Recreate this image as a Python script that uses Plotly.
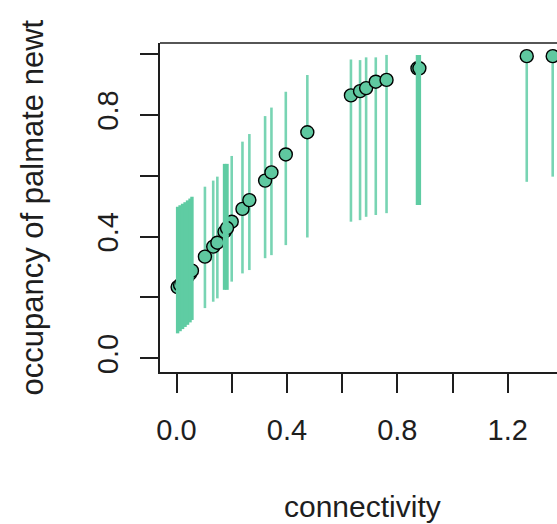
import plotly.graph_objects as go

# ---- data ----
# points whose markers sit on top of their interval lines
conn = [0.103, 0.133, 0.148, 0.200, 0.239, 0.264, 0.321, 0.344, 0.396, 0.474,
        0.632, 0.665, 0.687, 0.722, 0.761, 1.269, 1.363]
occ = [0.334, 0.367, 0.380, 0.449, 0.491, 0.520, 0.584, 0.611, 0.670, 0.743,
       0.864, 0.878, 0.888, 0.909, 0.915, 0.993, 0.993]
occ_lo = [0.165, 0.186, 0.197, 0.252, 0.279, 0.290, 0.329, 0.339, 0.372, 0.397,
          0.449, 0.454, 0.465, 0.471, 0.477, 0.580, 0.597]
occ_hi = [0.564, 0.584, 0.597, 0.665, 0.712, 0.737, 0.796, 0.824, 0.876, 0.931,
          0.982, 0.980, 0.989, 0.989, 0.997, 0.997, 0.997]

# points whose markers are covered by later-drawn interval lines
conn_b = [0.004, 0.013, 0.022, 0.031, 0.040, 0.049, 0.056, 0.174, 0.183, 0.873, 0.880]
occ_b = [0.234, 0.241, 0.250, 0.258, 0.268, 0.278, 0.288, 0.416, 0.428, 0.953, 0.953]
occ_lo_b = [0.082, 0.089, 0.096, 0.103, 0.110, 0.118, 0.126, 0.225, 0.225, 0.504, 0.504]
occ_hi_b = [0.498, 0.503, 0.508, 0.513, 0.519, 0.525, 0.531, 0.639, 0.639, 0.997, 0.997]

x_ticks = [0.0, 0.2, 0.4, 0.6, 0.8, 1.0, 1.2]
x_tick_labels = ["0.0", "", "0.4", "", "0.8", "", "1.2"]
y_ticks = [0.0, 0.2, 0.4, 0.6, 0.8, 1.0]
y_tick_labels = ["0.0", "", "0.4", "", "0.8", ""]

LINE_COL = "#78d4b3"
LINE_COL_DENSE = "#5fcca3"
FILL_COL = "#5fc8a0"
INK = "#1e1e1e"
FONT = "Liberation Sans, Arial, sans-serif"


def seg(xs, lo, hi):
    sx, sy = [], []
    for x, a, b in zip(xs, lo, hi):
        sx += [x, x, None]
        sy += [a, b, None]
    return sx, sy


fig = go.Figure()
sx, sy = seg(conn, occ_lo, occ_hi)
fig.add_trace(go.Scatter(x=sx, y=sy, mode="lines",
                         line=dict(color=LINE_COL, width=2.6), hoverinfo="skip"))
fig.add_trace(go.Scatter(x=conn + conn_b, y=occ + occ_b, mode="markers",
                         marker=dict(size=13, color=FILL_COL,
                                     line=dict(color="black", width=1.4))))
# interval lines drawn after (over) their markers
sx, sy = seg(conn_b, occ_lo_b, occ_hi_b)
fig.add_trace(go.Scatter(x=sx, y=sy, mode="lines",
                         line=dict(color=LINE_COL_DENSE, width=3.4), hoverinfo="skip"))

fig.update_layout(
    width=557, height=524,
    margin=dict(l=160, r=0, t=43, b=152),
    plot_bgcolor="white", paper_bgcolor="white",
    showlegend=False,
    font=dict(family=FONT, color=INK),
    xaxis=dict(range=[-0.0598, 1.3786], tickvals=x_ticks, ticktext=x_tick_labels,
               ticks="outside", ticklen=19, tickwidth=1.5, tickcolor=INK,
               showline=True, linecolor=INK, linewidth=1.5,
               showgrid=False, zeroline=False, ticklabelstandoff=12,
               tickfont=dict(size=29, family=FONT, color=INK)),
    yaxis=dict(range=[-0.045, 1.0362], tickvals=y_ticks, ticktext=y_tick_labels,
               ticks="outside", ticklen=18, tickwidth=1.5, tickcolor=INK,
               showline=True, linecolor=INK, linewidth=1.5,
               showgrid=False, zeroline=False, tickangle=-90, ticklabelstandoff=11,
               tickfont=dict(size=29, family=FONT, color=INK)),
    shapes=[dict(type="line", xref="paper", yref="paper", x0=0, x1=1, y0=1, y1=1,
                 line=dict(color=INK, width=1.5))],
    annotations=[
        dict(text="connectivity", xref="paper", yref="paper", x=0.5113, y=-0.41,
             xanchor="center", yanchor="middle", showarrow=False,
             font=dict(size=30, family=FONT, color=INK)),
        dict(text="occupancy of palmate newt", xref="paper", yref="paper",
             x=-0.32, y=0.5, xanchor="center", yanchor="middle", textangle=-90,
             showarrow=False, font=dict(size=31, family=FONT, color=INK)),
    ],
)

fig.write_html("out.html")
